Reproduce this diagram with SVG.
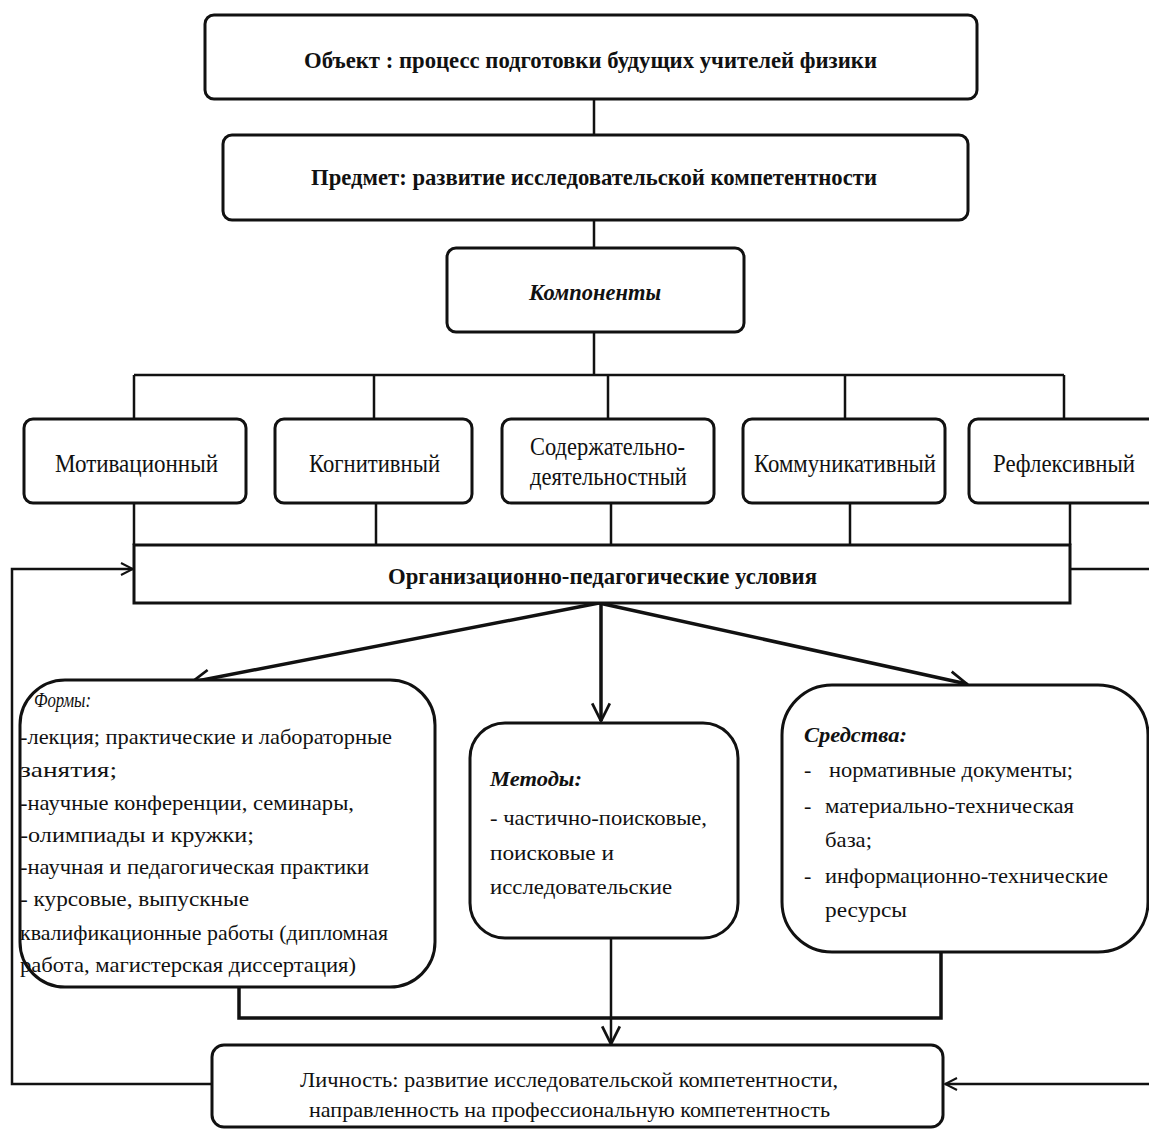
<svg xmlns="http://www.w3.org/2000/svg" width="1149" height="1129" viewBox="0 0 1149 1129">
<defs>
<marker id="arr" viewBox="0 0 14 14" refX="13" refY="7" markerWidth="14" markerHeight="14" markerUnits="userSpaceOnUse" orient="auto">
<path d="M1,1 L13,7 L1,13" fill="none" stroke="#111" stroke-width="2"/>
</marker>
<marker id="arrB" viewBox="0 0 20 20" refX="18" refY="10" markerWidth="22" markerHeight="22" markerUnits="userSpaceOnUse" orient="auto">
<path d="M2,2 L18,10 L2,18" fill="none" stroke="#111" stroke-width="2.5"/>
</marker>
</defs>
<style>
.bx{fill:#fff;stroke:#111;stroke-width:3}
.ln{fill:none;stroke:#111;stroke-width:2.5}
.thk{fill:none;stroke:#111;stroke-width:3.5}
text{font-family:"Liberation Serif","Times New Roman",serif;fill:#111}
.tb{font-weight:bold;font-size:24px}
.tc{font-size:25px}
.tl{font-size:22px}
.bi{font-weight:bold;font-style:italic}
.it{font-style:italic}
</style>
<rect width="1149" height="1129" fill="#fff"/>
<g id="connectors">
<path class="ln" d="M594,99 V135 M594,220 V248 M594,332 V375"/>
<path class="ln" d="M134,375 H1064 M134,375 V419 M374,375 V419 M608,375 V419 M845,375 V419 M1064,375 V419"/>
<path class="ln" d="M134,503 V545 M376,503 V545 M611,503 V545 M850,503 V545 M1070,503 V545"/>
<path class="thk" d="M599,603 L192,682" marker-end="url(#arrB)"/>
<path class="thk" d="M601,603 V721" marker-end="url(#arrB)"/>
<path class="thk" d="M599,603 L967,684" marker-end="url(#arrB)"/>
<path class="thk" d="M239,987 V1018 H941 V952"/>
<path class="ln" d="M611,938 V1044" marker-end="url(#arrB)"/>
<path class="ln" d="M212,1084 H12 V569 H133" marker-end="url(#arr)"/>
<path class="ln" d="M1070,569 H1149"/>
<path class="ln" d="M1149,1084 H945" marker-end="url(#arr)"/>
</g>
<g id="object">
<rect class="bx" x="205" y="15" width="772" height="84" rx="9"/>
<text class="tb" x="304" y="68" textLength="573" lengthAdjust="spacingAndGlyphs">Объект : процесс подготовки будущих учителей физики</text>
</g>
<g id="predmet">
<rect class="bx" x="223" y="135" width="745" height="85" rx="9"/>
<text class="tb" x="311" y="185" textLength="566" lengthAdjust="spacingAndGlyphs">Предмет: развитие исследовательской компетентности</text>
</g>
<g id="components">
<rect class="bx" x="447" y="248" width="297" height="84" rx="9"/>
<text class="tb bi" x="529" y="300" textLength="132" lengthAdjust="spacingAndGlyphs">Компоненты</text>
</g>
<g id="motiv">
<rect class="bx" x="24" y="419" width="222" height="84" rx="9"/>
<text class="tc" x="55" y="472" textLength="163" lengthAdjust="spacingAndGlyphs">Мотивационный</text>
</g>
<g id="cogn">
<rect class="bx" x="275" y="419" width="197" height="84" rx="9"/>
<text class="tc" x="309" y="472" textLength="131" lengthAdjust="spacingAndGlyphs">Когнитивный</text>
</g>
<g id="soder">
<rect class="bx" x="502" y="419" width="212" height="84" rx="9"/>
<text class="tc" x="530" y="455" textLength="155" lengthAdjust="spacingAndGlyphs">Содержательно-</text>
<text class="tc" x="530" y="485" textLength="157" lengthAdjust="spacingAndGlyphs">деятельностный</text>
</g>
<g id="komm">
<rect class="bx" x="743" y="419" width="202" height="84" rx="9"/>
<text class="tc" x="754" y="472" textLength="182" lengthAdjust="spacingAndGlyphs">Коммуникативный</text>
</g>
<g id="refl">
<rect class="bx" x="969" y="419" width="200" height="84" rx="9"/>
<text class="tc" x="993" y="472" textLength="142" lengthAdjust="spacingAndGlyphs">Рефлексивный</text>
</g>
<g id="org">
<rect class="bx" x="134" y="545" width="936" height="58"/>
<text class="tb" x="388" y="584" textLength="429" lengthAdjust="spacingAndGlyphs">Организационно-педагогические условия</text>
</g>
<g id="formy">
<rect class="bx" x="20" y="680" width="415" height="307" rx="45"/>
<text class="tl it" x="34" y="707" textLength="57" lengthAdjust="spacingAndGlyphs">Формы:</text>
<text class="tl" x="20" y="744" textLength="372" lengthAdjust="spacingAndGlyphs">-лекция; практические и лабораторные</text>
<text class="tl" x="20" y="777" textLength="97" lengthAdjust="spacingAndGlyphs">занятия;</text>
<text class="tl" x="20" y="810" textLength="334" lengthAdjust="spacingAndGlyphs">-научные конференции, семинары,</text>
<text class="tl" x="20" y="842" textLength="234" lengthAdjust="spacingAndGlyphs">-олимпиады и кружки;</text>
<text class="tl" x="20" y="874" textLength="349" lengthAdjust="spacingAndGlyphs">-научная и педагогическая практики</text>
<text class="tl" x="20" y="906" textLength="229" lengthAdjust="spacingAndGlyphs">- курсовые, выпускные</text>
<text class="tl" x="20" y="940" textLength="368" lengthAdjust="spacingAndGlyphs">квалификационные работы (дипломная</text>
<text class="tl" x="20" y="972" textLength="336" lengthAdjust="spacingAndGlyphs">работа, магистерская диссертация)</text>
</g>
<g id="metody">
<rect class="bx" x="470" y="723" width="268" height="215" rx="35"/>
<text class="tl bi" x="490" y="786" textLength="92" lengthAdjust="spacingAndGlyphs">Методы:</text>
<text class="tl" x="490" y="825" textLength="217" lengthAdjust="spacingAndGlyphs">- частично-поисковые,</text>
<text class="tl" x="490" y="860" textLength="124" lengthAdjust="spacingAndGlyphs">поисковые и</text>
<text class="tl" x="490" y="894" textLength="182" lengthAdjust="spacingAndGlyphs">исследовательские</text>
</g>
<g id="sredstva">
<rect class="bx" x="782" y="685" width="366" height="267" rx="50"/>
<text class="tl bi" x="804" y="742" textLength="103" lengthAdjust="spacingAndGlyphs">Средства:</text>
<text class="tl" x="804" y="777">-</text>
<text class="tl" x="829" y="777" textLength="244" lengthAdjust="spacingAndGlyphs">нормативные документы;</text>
<text class="tl" x="804" y="813">-</text>
<text class="tl" x="825" y="813" textLength="249" lengthAdjust="spacingAndGlyphs">материально-техническая</text>
<text class="tl" x="825" y="847" textLength="47" lengthAdjust="spacingAndGlyphs">база;</text>
<text class="tl" x="804" y="883">-</text>
<text class="tl" x="825" y="883" textLength="283" lengthAdjust="spacingAndGlyphs">информационно-технические</text>
<text class="tl" x="825" y="917" textLength="82" lengthAdjust="spacingAndGlyphs">ресурсы</text>
</g>
<g id="lichnost">
<rect class="bx" x="212" y="1045" width="731" height="82" rx="12"/>
<text class="tl" x="300" y="1087" textLength="538" lengthAdjust="spacingAndGlyphs">Личность: развитие исследовательской компетентности,</text>
<text class="tl" x="309" y="1117" textLength="521" lengthAdjust="spacingAndGlyphs">направленность на профессиональную компетентность</text>
</g>
</svg>
